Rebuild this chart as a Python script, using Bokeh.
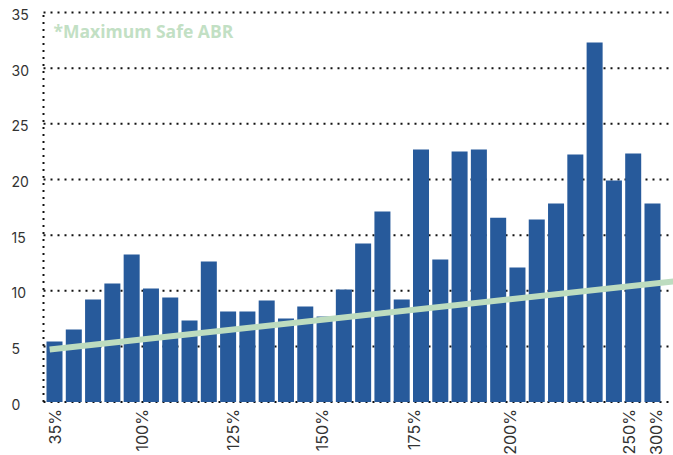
from math import pi

from bokeh.plotting import figure
from bokeh.models import Range1d, ColumnDataSource
from bokeh.core.properties import value
from bokeh.embed import file_html
from bokeh.resources import INLINE

# ---- data ----
bar_values = [5.45, 6.52, 9.22, 10.66, 13.26, 10.21, 9.40, 7.33, 12.63, 8.14,
              8.14, 9.13, 7.51, 8.59, 7.69, 10.12, 14.25, 17.12, 9.22, 22.69,
              12.81, 22.51, 22.69, 16.56, 12.09, 16.40, 17.84, 22.24, 32.31,
              19.91, 22.33, 17.84]
bar_index = list(range(len(bar_values)))

x_tick_pos = [0.0, 4.55, 9.25, 13.85, 18.65, 23.6, 29.8, 31.2]
x_tick_labels = ["35%", "100%", "125%", "150%", "175%", "200%", "250%", "300%"]
y_ticks = [0, 5, 10, 15, 20, 25, 30, 35]
y_tick_labels = [str(v) for v in y_ticks]

safe_abr_x = [-0.25, 32.1]
safe_abr_y = [4.73, 10.85]
legend_text = "*Maximum Safe ABR"

# ---- style ----
BAR_COLOR = "#275a9b"
LINE_COLOR = "#bddcbf"
LEGEND_COLOR = "#c2e0c4"
TEXT_COLOR = "#333333"
DOT_COLOR = "#111111"
FONT = "Inter"

W, H = 673, 455
PX_X = 19.29      # pixels per category
PX_Y = 11.131     # pixels per y unit
X0_PX, Y0_PX = 54.0, 401.6   # pixel of first category / of value 0

x_start, x_end = -X0_PX / PX_X, (W - X0_PX) / PX_X
y_start, y_end = -(H - Y0_PX) / PX_Y, Y0_PX / PX_Y

axis_x = (43 - X0_PX) / PX_X          # dotted value axis
axis_top = (Y0_PX - 11) / PX_Y
ylab_x = (11 - X0_PX) / PX_X          # left edge of value labels
ylab_shift = -2 / PX_Y                # value labels sit slightly low
xlab_y = -7 / PX_Y                    # top of rotated category labels
legend_x, legend_y = (53 - X0_PX) / PX_X, (Y0_PX - 30) / PX_Y

p = figure(width=W, height=H,
           x_range=Range1d(x_start, x_end), y_range=Range1d(y_start, y_end),
           output_backend="svg", toolbar_location=None,
           min_border=0)
p.outline_line_color = None
p.background_fill_color = "white"
p.border_fill_color = "white"
p.xaxis.visible = False
p.yaxis.visible = False
p.grid.visible = False

# dotted grid lines
p.segment(x0=[axis_x] * len(y_ticks), x1=[x_end] * len(y_ticks),
          y0=y_ticks, y1=y_ticks, line_color=DOT_COLOR, line_width=2,
          line_dash="2 5")

# bars
src = ColumnDataSource(dict(x=bar_index, top=bar_values))
p.vbar(x="x", top="top", bottom=0, width=0.83, source=src,
       fill_color=BAR_COLOR, line_color=None)

# dotted value axis
p.segment(x0=[axis_x], x1=[axis_x], y0=[0], y1=[axis_top],
          line_color=DOT_COLOR, line_width=2, line_dash="2 5")

# safe ABR line
p.line(x=safe_abr_x, y=safe_abr_y, line_width=6, line_color=LINE_COLOR,
       line_cap="butt")

# value labels
p.text(x=[ylab_x] * len(y_ticks), y=[v + ylab_shift for v in y_ticks],
       text=y_tick_labels, text_align="left", text_baseline="middle",
       text_font=value(FONT), text_font_size="14px", text_color=TEXT_COLOR)

# category labels
p.text(x=x_tick_pos, y=[xlab_y] * len(x_tick_pos), text=x_tick_labels,
       angle=pi / 2, text_align="right", text_baseline="middle",
       text_font=value(FONT), text_font_size="16px", text_color=TEXT_COLOR)

# legend note
p.text(x=[legend_x], y=[legend_y], text=[legend_text],
       text_align="left", text_baseline="middle",
       text_font=value("Open Sans"), text_font_size="17.5px",
       text_font_style="bold", text_color=LEGEND_COLOR)

open("out.html", "w").write(file_html(p, INLINE))
